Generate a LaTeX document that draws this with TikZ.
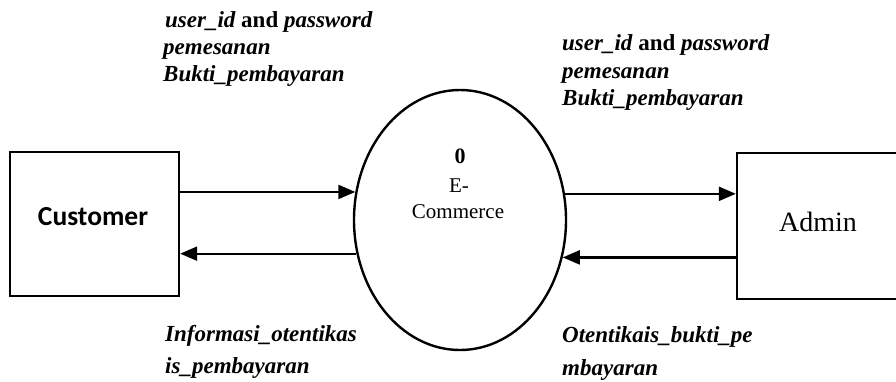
\documentclass[tikz,border=0pt]{standalone}
\usepackage{fontspec}
\setmainfont{Liberation Serif}
\newfontfamily\calfont{Carlito}
\usetikzlibrary{shapes.geometric,arrows.meta}
\begin{document}
\begin{tikzpicture}[x=1pt,y=-1pt,
  entity/.style={draw, line width=2.4pt, inner sep=0pt},
  proc/.style={draw, ellipse, line width=2.4pt, inner sep=0pt},
  flow/.style={line width=2.2pt, -{Triangle[length=17pt,width=14pt]}},
  lbl/.style={inner sep=0pt, anchor=base west, font=\fontsize{23}{27}\selectfont\bfseries\itshape},
  ctext/.style={inner sep=0pt, anchor=base, font=\fontsize{21}{24}\selectfont}]
\clip (0,0) rectangle (896,381);
\fill[white] (0,0) rectangle (896,381);

% entities and process
\node[entity, minimum width=169pt, minimum height=144pt] (cust) at (94.5,224) {};
\node[entity, minimum width=168pt, minimum height=146pt] (admin) at (821,226) {};
\node[proc, minimum width=212pt, minimum height=260pt] (proc) at (460,220) {};

% texts inside shapes
\node[inner sep=0pt, anchor=base, font=\calfont\fontsize{27.5}{30}\selectfont\bfseries] (custtxt) at (93,225) {Customer};
\node[inner sep=0pt, anchor=base, font=\fontsize{28}{32}\selectfont] (admintxt) at (818,231) {Admin};
\node[ctext, font=\fontsize{22}{24}\selectfont\bfseries] (pnum) at (460,163) {0};
\node[ctext] (pname1) at (459,192) {E-};
\node[ctext] (pname2) at (458,218) {Commerce};

% flows
\draw[flow] (cust.east |- proc.165.4) -- (proc.165.4);
\draw[flow] (proc.198.4) -- (cust.east |- proc.198.4);
\draw[flow] (proc.14) -- (admin.west |- proc.14);
\draw[flow] (admin.west |- proc.340) -- (proc.340);

% flow labels, left top
\node[lbl] (lt1) at (165,27) {user\_id {\upshape and} password};
\node[lbl] (lt2) at (163,54) {pemesanan};
\node[lbl] (lt3) at (163,81) {Bukti\_pembayaran};
% right top
\node[lbl] (rt1) at (562,50) {user\_id {\upshape and} password};
\node[lbl] (rt2) at (562,78) {pemesanan};
\node[lbl] (rt3) at (562,105) {Bukti\_pembayaran};
% left bottom
\node[lbl] (lb1) at (165,341) {Informasi\_otentikas};
\node[lbl] (lb2) at (165,373) {is\_pembayaran};
% right bottom
\node[lbl] (rb1) at (562,342) {Otentikais\_bukti\_pe};
\node[lbl] (rb2) at (562,375) {mbayaran};
\end{tikzpicture}
\end{document}
